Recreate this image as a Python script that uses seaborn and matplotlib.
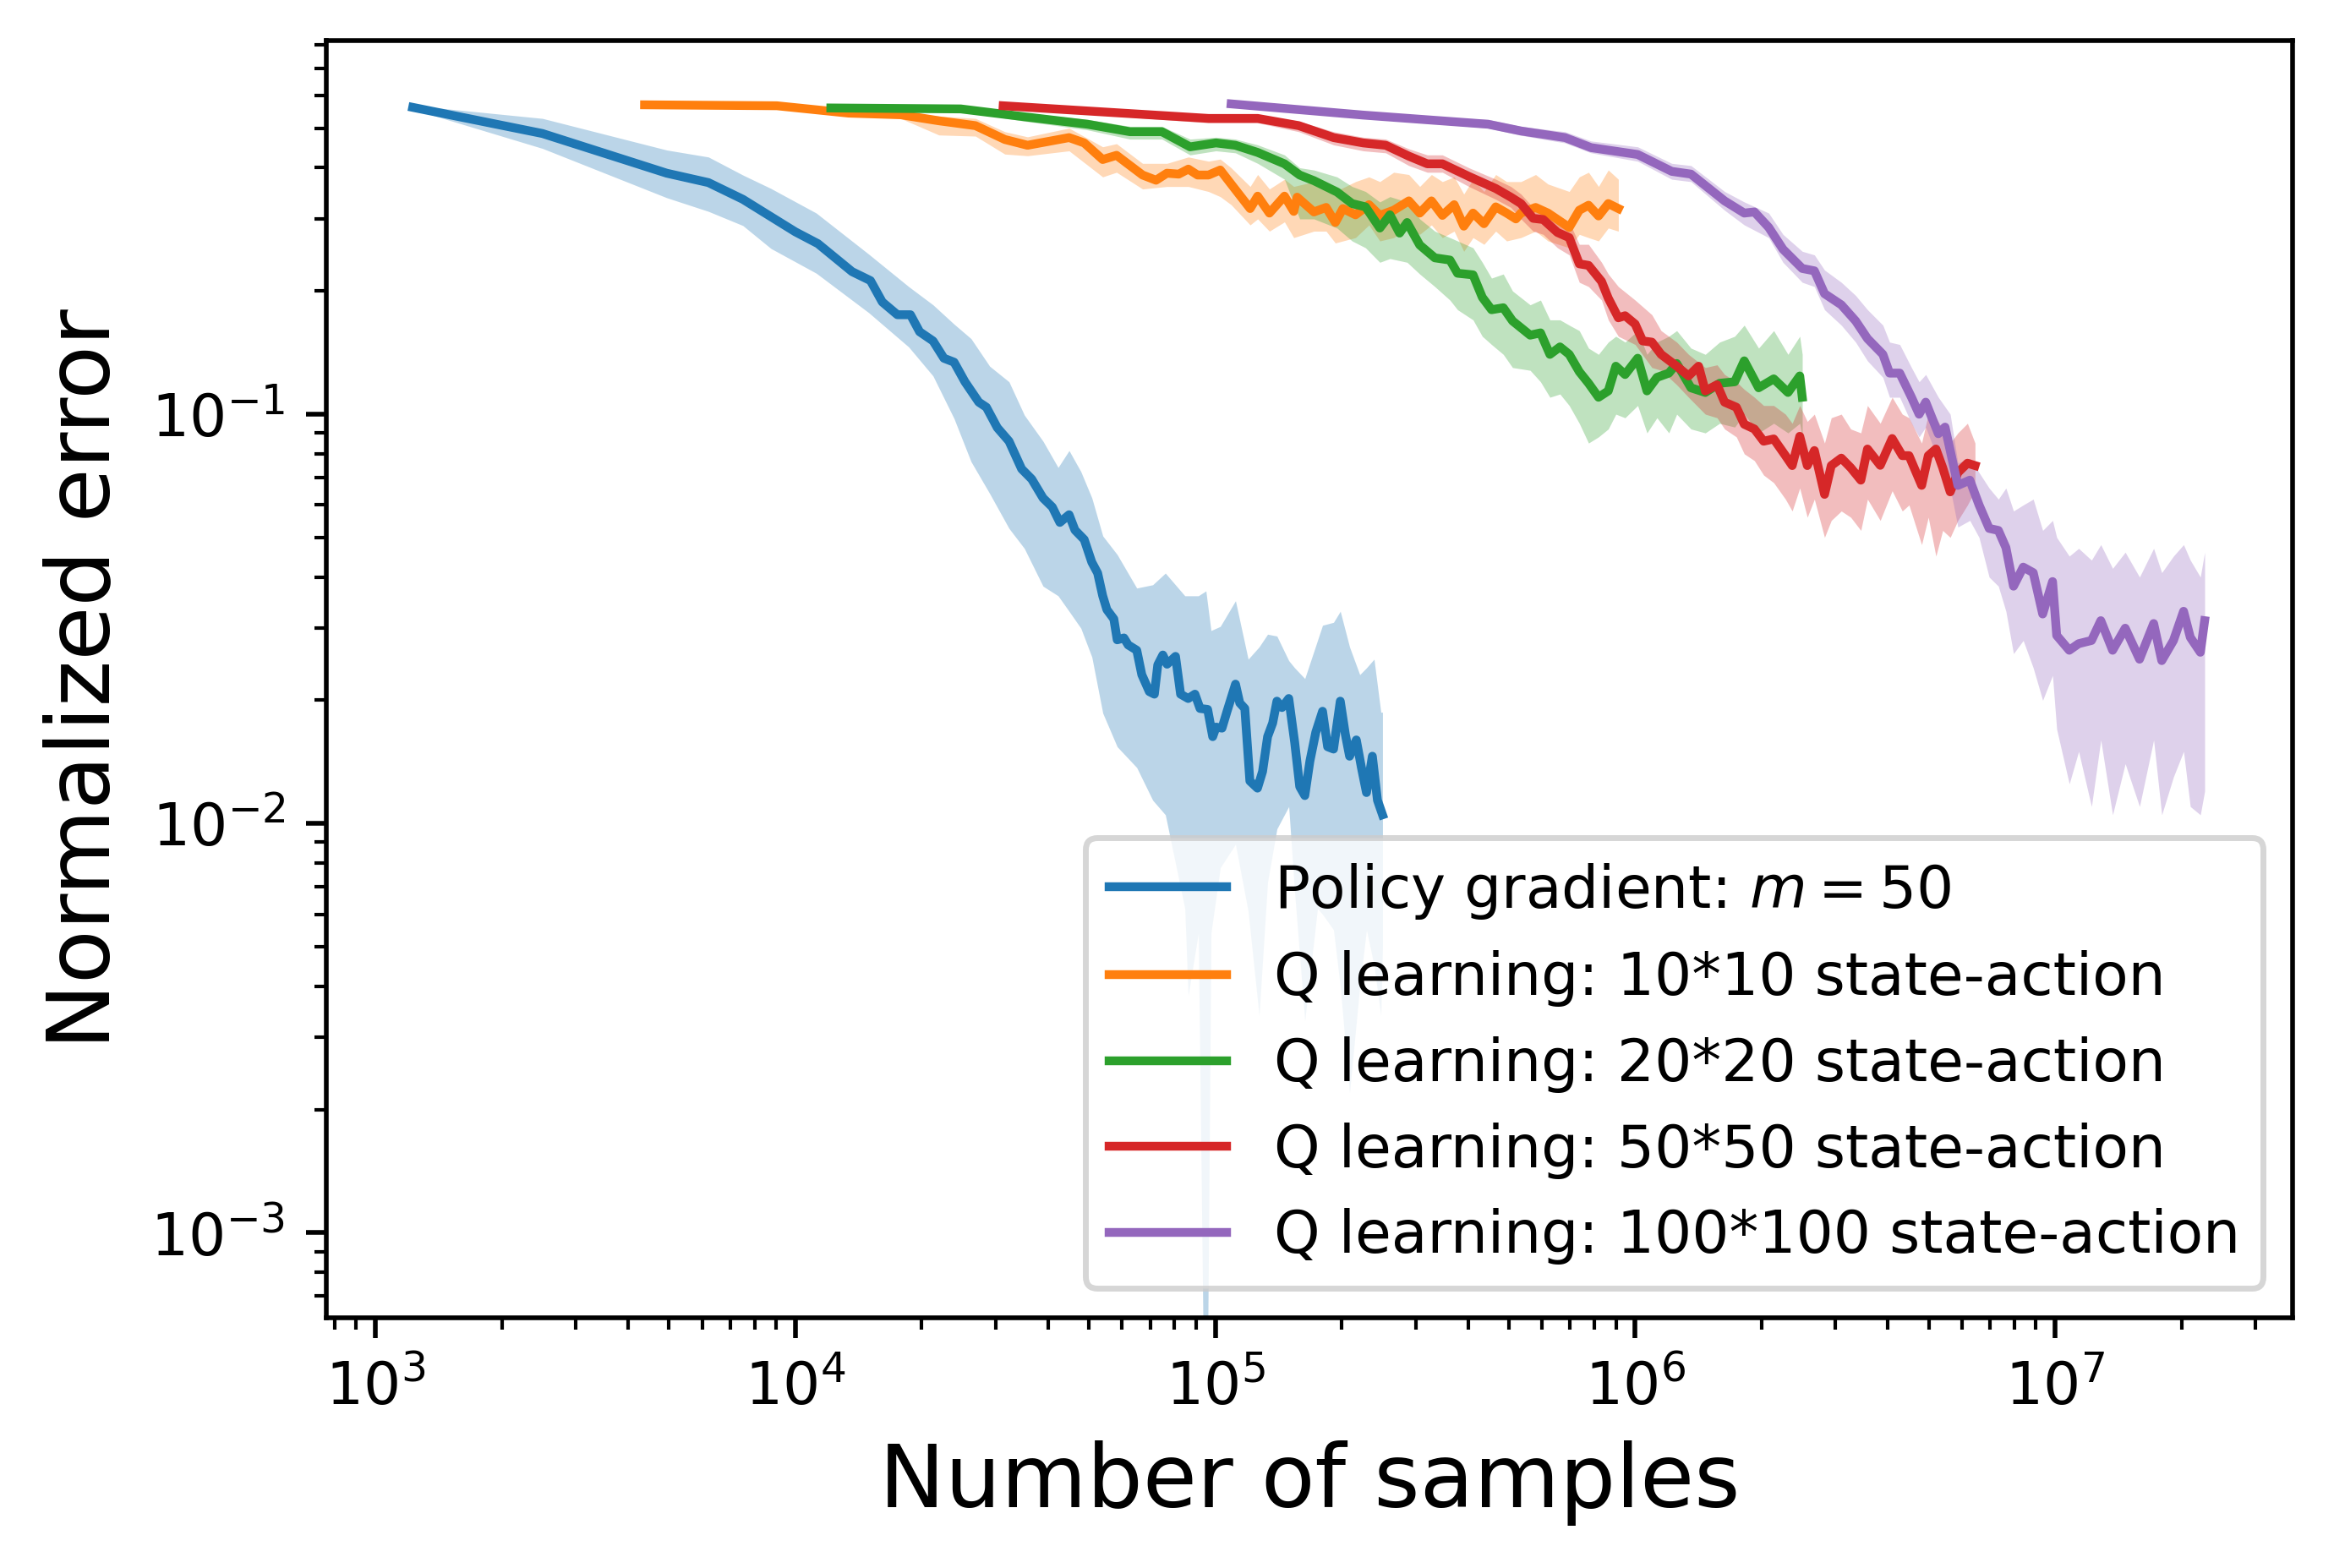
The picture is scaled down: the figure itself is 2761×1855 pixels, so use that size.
import numpy as np
import pandas as pd
import seaborn as sns
import matplotlib
matplotlib.use('Agg')
import matplotlib.pyplot as plt

# ---- data ----
labels = ["Policy gradient: $m=50$",
          "Q learning: 10*10 state-action",
          "Q learning: 20*20 state-action",
          "Q learning: 50*50 state-action",
          "Q learning: 100*100 state-action"]
colors = ["tab:blue", "tab:orange", "tab:green", "tab:red", "tab:purple"]

# policy gradient
pg_x = [1227, 2500, 4940, 6210, 7500, 10000, 11320, 13650, 15100, 16110, 17500, 18800,
        19770, 21280, 22590, 23880, 25350, 27350, 28510, 30270, 32280, 34590, 36560,
        38900, 40930, 42660, 44870, 46340, 48750, 50820, 52480, 53950, 55210, 57350,
        58420, 60620, 62050, 65030, 66850, 69670, 71630, 72970, 75030, 76790, 80430,
        82700, 86220, 89470, 92000, 95920, 98620, 100470, 103780, 106700, 111760,
        114390, 117610, 120920, 126070, 129630, 133270, 137020, 140250, 144210, 149660,
        154580, 158940, 163430, 168040, 173560, 180120, 185200, 191300, 198520, 204120,
        208900, 216770, 222900, 229190, 236700, 243400, 250250]
pg_y = [0.562, 0.485, 0.388, 0.368, 0.335, 0.279, 0.261, 0.223, 0.212, 0.188, 0.175, 0.175,
        0.159, 0.151, 0.137, 0.134, 0.120, 0.107, 0.104, 0.0927, 0.0859, 0.0735, 0.0694,
        0.0624, 0.0593, 0.0544, 0.0568, 0.0521, 0.0494, 0.0435, 0.0409, 0.0360, 0.0333, 0.0316,
        0.0281, 0.0284, 0.0273, 0.0265, 0.0231, 0.0210, 0.0207, 0.0244, 0.0258, 0.0245,
        0.0256, 0.0207, 0.0202, 0.0207, 0.0191, 0.0190, 0.0163, 0.0172, 0.0171, 0.0188,
        0.0219, 0.0197, 0.0191, 0.0127, 0.0122, 0.0134, 0.0163, 0.0176, 0.0199, 0.0192,
        0.0202, 0.0158, 0.0123, 0.0117, 0.0142, 0.0167, 0.0188, 0.0154, 0.0152, 0.0199,
        0.0165, 0.0146, 0.0160, 0.0137, 0.0119, 0.0146, 0.0114, 0.0105]
pg_band_x = [1227, 2500, 4940, 6210, 7500, 8750, 11220, 14960, 18620, 21280, 23880, 26210,
             29030, 32280, 35110, 38900, 42250, 44870, 47870, 50850, 53990, 58420, 65030,
             70980, 76080, 84660, 86220, 91160, 95030, 97710, 102800, 111760, 119800,
             127200, 133270, 140250, 149660, 154580, 163430, 175200, 180120, 191300,
             198520, 208900, 220900, 229190, 238900, 248000, 250250]
pg_band_lo = [0.556, 0.446, 0.338, 0.313, 0.289, 0.254, 0.221, 0.177, 0.146, 0.124, 0.0976,
              0.0766, 0.064, 0.0526, 0.047, 0.038, 0.036, 0.033, 0.030, 0.0255, 0.0186,
              0.0154, 0.0137, 0.0114, 0.0105, 0.0062, 0.0038, 0.0054, 0.00015, 0.0054,
              0.0078, 0.0089, 0.0061, 0.0034, 0.0072, 0.0097, 0.011, 0.0068, 0.0033, 0.0062,
              0.006, 0.0055, 0.004, 0.0022, 0.004, 0.0055, 0.0045, 0.0034, 0.005]
pg_band_hi = [0.568, 0.528, 0.442, 0.425, 0.384, 0.356, 0.310, 0.246, 0.205, 0.185, 0.166,
              0.153, 0.131, 0.120, 0.0995, 0.0859, 0.0741, 0.0815, 0.0724, 0.0624, 0.0504,
              0.0454, 0.0376, 0.0383, 0.0409, 0.036, 0.036, 0.036, 0.037, 0.0296, 0.0303,
              0.035, 0.0252, 0.027, 0.029, 0.0287, 0.025, 0.024, 0.0226, 0.028, 0.0305,
              0.031, 0.033, 0.027, 0.0231, 0.024, 0.0252, 0.0187, 0.0187]

# Q learning 10*10
q10_x = [4375, 9036, 13400, 17820, 21980, 26850, 31550, 35730, 44870, 48750, 53950, 58210,
         67140, 72280, 76740, 81850, 86300, 90780, 96380, 102800, 109100, 121100, 126200,
         134600, 146200, 153800, 156700, 171800, 183700, 193200, 201400, 215800, 232300,
         246600, 266100, 289100, 306900, 327300, 347500, 370700, 390800, 411100, 436500,
         465600, 494300, 520000, 534600, 579400, 620000, 696600, 736200, 774500, 818000,
         863000, 912000]
q10_y = [0.570, 0.567, 0.544, 0.539, 0.521, 0.507, 0.469, 0.454, 0.474, 0.460, 0.419, 0.429,
         0.384, 0.373, 0.388, 0.386, 0.397, 0.384, 0.384, 0.395, 0.365, 0.318, 0.341,
         0.310, 0.341, 0.313, 0.339, 0.312, 0.320, 0.294, 0.318, 0.307, 0.325,
         0.306, 0.315, 0.332, 0.310, 0.332, 0.306, 0.325, 0.288, 0.310, 0.292,
         0.321, 0.310, 0.300, 0.310, 0.320, 0.310, 0.286, 0.315, 0.324, 0.305,
         0.327, 0.318]
q10_band_x = [4375, 9036, 13400, 17820, 21980, 26850, 31550, 35730, 44870, 53950, 58210,
              67140, 76740, 86300, 96380, 102800, 109100, 121100, 126200, 134600, 146200,
              153800, 171800, 183700, 193200, 215800, 232300, 246600, 266100, 289100,
              306900, 327300, 347500, 370700, 390800, 411100, 436500, 465600, 494300,
              534600, 579400, 620000, 696600, 736200, 774500, 818000, 863000, 912000]
q10_band_lo = [0.565, 0.562, 0.535, 0.528, 0.481, 0.478, 0.432, 0.428, 0.44, 0.38, 0.39,
               0.355, 0.36, 0.36, 0.35, 0.34, 0.325, 0.29, 0.30, 0.28, 0.295,
               0.27, 0.28, 0.28, 0.262, 0.27, 0.29, 0.265, 0.27, 0.285,
               0.275, 0.29, 0.27, 0.28, 0.25, 0.27, 0.26, 0.28, 0.265,
               0.27, 0.28, 0.265, 0.255, 0.275, 0.27, 0.265, 0.285, 0.28]
q10_band_hi = [0.575, 0.573, 0.552, 0.548, 0.535, 0.528, 0.49, 0.476, 0.50, 0.45, 0.458,
               0.41, 0.41, 0.425, 0.415, 0.42, 0.40, 0.36, 0.385, 0.355, 0.375,
               0.36, 0.37, 0.36, 0.35, 0.37, 0.38, 0.37, 0.39, 0.385,
               0.36, 0.385, 0.37, 0.38, 0.345, 0.375, 0.35, 0.385, 0.37,
               0.37, 0.385, 0.365, 0.35, 0.38, 0.39, 0.36, 0.395, 0.375]

# Q learning 20*20
q20_x = [12150, 24770, 35090, 49660, 62660, 74650, 87100, 100400, 111700, 126200, 146200,
         158900, 171800, 195000, 211800, 228000, 246600, 260600, 274800, 286400, 306900,
         333400, 362200, 377600, 411100, 432500, 455000, 485300, 510500, 562300, 595200,
         626600, 662200, 696600, 736200, 774500, 818000, 863000, 899500, 946200, 1014000,
         1067000, 1127000, 1203000, 1256000, 1358000, 1469000, 1589000, 1726000, 1819000,
         1968000, 2138000, 2312000, 2466000, 2500000]
q20_y = [0.560, 0.557, 0.533, 0.511, 0.490, 0.490, 0.450, 0.460, 0.454, 0.436, 0.409,
         0.384, 0.372, 0.349, 0.327, 0.321, 0.285, 0.307, 0.277, 0.294, 0.259,
         0.241, 0.238, 0.221, 0.219, 0.193, 0.180, 0.182, 0.169, 0.156, 0.158,
         0.140, 0.146, 0.140, 0.127, 0.119, 0.110, 0.114, 0.131, 0.125, 0.137,
         0.114, 0.123, 0.126, 0.133, 0.116, 0.113, 0.119, 0.120, 0.135,
         0.116, 0.122, 0.113, 0.124, 0.110]
q20_band_x = [12150, 24770, 35090, 49660, 62660, 74650, 87100, 100400, 111700, 126200,
              146200, 158900, 171800, 195000, 211800, 228000, 246600, 260600, 286400,
              306900, 333400, 362200, 377600, 411100, 432500, 455000, 485300, 510500,
              562300, 595200, 626600, 662200, 696600, 736200, 774500, 818000, 863000,
              899500, 946200, 1014000, 1067000, 1127000, 1203000, 1256000, 1358000,
              1469000, 1589000, 1726000, 1819000, 1968000, 2138000, 2312000, 2466000, 2500000]
q20_band_lo = [0.555, 0.550, 0.52, 0.495, 0.47, 0.47, 0.43, 0.44, 0.435, 0.41,
               0.375, 0.30, 0.30, 0.285, 0.265, 0.255, 0.235, 0.24, 0.235,
               0.22, 0.205, 0.19, 0.18, 0.17, 0.155, 0.148, 0.14, 0.13,
               0.128, 0.12, 0.11, 0.112, 0.105, 0.095, 0.085, 0.088, 0.092,
               0.10, 0.098, 0.105, 0.09, 0.098, 0.09, 0.10, 0.092,
               0.09, 0.095, 0.093, 0.10, 0.09, 0.095, 0.09, 0.095, 0.088]
q20_band_hi = [0.565, 0.565, 0.545, 0.525, 0.505, 0.505, 0.47, 0.475, 0.47, 0.455,
               0.43, 0.40, 0.395, 0.38, 0.36, 0.35, 0.33, 0.34, 0.33,
               0.30, 0.28, 0.27, 0.265, 0.255, 0.235, 0.215, 0.22, 0.20,
               0.185, 0.19, 0.17, 0.17, 0.165, 0.16, 0.145, 0.14, 0.15,
               0.155, 0.15, 0.16, 0.14, 0.15, 0.155, 0.16, 0.145,
               0.14, 0.15, 0.155, 0.165, 0.145, 0.16, 0.14, 0.155, 0.14]

# Q learning 50*50
q50_x = [31260, 96380, 126200, 158100, 191400, 225100, 254700, 289100, 319900, 347500,
         401800, 465600, 505800, 534600, 571500, 604000, 653100, 696600, 736200, 774500,
         831800, 863000, 912000, 946200, 1000000, 1042000, 1096000, 1153000, 1256000,
         1340000, 1416000, 1469000, 1567000, 1633000, 1742000, 1819000, 1923000, 2023000,
         2138000, 2280000, 2366000, 2466000, 2570000, 2672000, 2825000, 2931000, 3097000,
         3261000, 3447000, 3575000, 3834000, 4093000, 4327000, 4489000, 4811000, 4990000,
         5203000, 5400000, 5627000, 5869000, 6185000, 6447000]
q50_y = [0.567, 0.528, 0.528, 0.507, 0.474, 0.460, 0.454, 0.427, 0.409, 0.409,
         0.381, 0.356, 0.339, 0.327, 0.301, 0.299, 0.278, 0.270, 0.233, 0.231,
         0.211, 0.192, 0.172, 0.174, 0.166, 0.151, 0.150, 0.140, 0.131,
         0.124, 0.131, 0.114, 0.118, 0.107, 0.104, 0.0945, 0.092, 0.0859,
         0.087, 0.0792, 0.0749, 0.0883, 0.0749, 0.0815, 0.0637, 0.0749, 0.0781,
         0.074, 0.069, 0.0822, 0.075, 0.0872, 0.0792, 0.0792, 0.067, 0.0792,
         0.0822, 0.074, 0.0646, 0.072, 0.0759, 0.0749]
q50_band_x = [31260, 96380, 126200, 158100, 191400, 225100, 254700, 289100, 319900, 347500,
              401800, 465600, 505800, 534600, 571500, 604000, 653100, 696600, 736200,
              774500, 831800, 863000, 912000, 1000000, 1096000, 1153000, 1256000, 1340000,
              1469000, 1567000, 1633000, 1742000, 1819000, 1923000, 2023000, 2138000,
              2280000, 2366000, 2466000, 2570000, 2672000, 2825000, 2931000, 3097000,
              3261000, 3447000, 3575000, 3834000, 4093000, 4327000, 4489000, 4811000,
              4990000, 5203000, 5400000, 5627000, 5869000, 6185000, 6447000]
q50_band_lo = [0.560, 0.515, 0.515, 0.49, 0.455, 0.44, 0.435, 0.405, 0.39, 0.39,
               0.36, 0.335, 0.32, 0.30, 0.28, 0.275, 0.255, 0.245, 0.21,
               0.205, 0.19, 0.17, 0.155, 0.148, 0.13, 0.128, 0.118, 0.11,
               0.10, 0.098, 0.092, 0.088, 0.08, 0.077, 0.071, 0.068,
               0.062, 0.058, 0.066, 0.056, 0.062, 0.05, 0.055, 0.058,
               0.056, 0.052, 0.062, 0.055, 0.065, 0.058, 0.060, 0.048,
               0.056, 0.045, 0.052, 0.05, 0.055, 0.06, 0.065]
q50_band_hi = [0.575, 0.540, 0.540, 0.52, 0.49, 0.475, 0.47, 0.445, 0.43, 0.43,
               0.40, 0.375, 0.36, 0.345, 0.32, 0.32, 0.30, 0.295, 0.26,
               0.26, 0.235, 0.22, 0.205, 0.19, 0.175, 0.16, 0.15, 0.14,
               0.13, 0.132, 0.125, 0.12, 0.115, 0.11, 0.105, 0.105,
               0.10, 0.095, 0.105, 0.096, 0.10, 0.085, 0.098, 0.10,
               0.092, 0.09, 0.105, 0.095, 0.11, 0.10, 0.098, 0.085,
               0.10, 0.098, 0.092, 0.085, 0.09, 0.095, 0.085]

# Q learning 100*100
q100_x = [109100, 225100, 446700, 534600, 680800, 785200, 1014000, 1222000, 1358000,
          1633000, 1819000, 1923000, 2080000, 2249000, 2500000, 2672000, 2825000, 3097000,
          3350000, 3575000, 3890000, 4035000, 4266000, 4550000, 4745000, 4920000, 5272000,
          5470000, 5627000, 5869000, 6266000, 6592000, 6966000, 7328000, 7638000, 7962000,
          8398000, 8872000, 9343000, 9863000, 10090000, 10810000, 11380000, 12210000,
          12850000, 13710000, 14690000, 15890000, 17170000, 17950000, 19140000, 20230000,
          20990000, 22180000, 22710000]
q100_y = [0.573, 0.538, 0.511, 0.492, 0.474, 0.448, 0.431, 0.392, 0.386,
          0.332, 0.310, 0.312, 0.286, 0.253, 0.227, 0.224, 0.197, 0.185,
          0.169, 0.153, 0.140, 0.126, 0.126, 0.110, 0.100, 0.107, 0.0896,
          0.093, 0.0815, 0.067, 0.069, 0.060, 0.0526, 0.052, 0.0472, 0.038,
          0.0423, 0.041, 0.0325, 0.039, 0.0288, 0.0265, 0.0275, 0.0280,
          0.0313, 0.0265, 0.030, 0.0252, 0.0308, 0.025, 0.028, 0.033,
          0.0285, 0.0262, 0.0313]
q100_band_x = [109100, 225100, 446700, 534600, 680800, 785200, 1014000, 1222000, 1358000,
               1633000, 1819000, 2080000, 2249000, 2500000, 2672000, 2825000, 3097000,
               3350000, 3575000, 3890000, 4035000, 4266000, 4550000, 4745000, 4920000,
               5272000, 5627000, 5869000, 6266000, 6592000, 6966000, 7328000, 7638000,
               7962000, 8398000, 8872000, 9343000, 9863000, 10090000, 10810000, 11380000,
               12210000, 12850000, 13710000, 14690000, 15890000, 17170000, 17950000,
               19140000, 20230000, 20990000, 22180000, 22710000]
q100_band_lo = [0.568, 0.53, 0.50, 0.48, 0.46, 0.435, 0.415, 0.375, 0.37,
                0.315, 0.29, 0.27, 0.235, 0.21, 0.205, 0.18, 0.165,
                0.15, 0.135, 0.123, 0.11, 0.11, 0.095, 0.088, 0.093,
                0.077, 0.066, 0.053, 0.055, 0.05, 0.04, 0.038, 0.033,
                0.026, 0.028, 0.024, 0.02, 0.023, 0.017, 0.0125, 0.015,
                0.011, 0.016, 0.0105, 0.014, 0.011, 0.016, 0.0105,
                0.013, 0.015, 0.011, 0.0105, 0.012]
q100_band_hi = [0.578, 0.545, 0.525, 0.505, 0.49, 0.465, 0.45, 0.41, 0.405,
                0.35, 0.33, 0.31, 0.275, 0.25, 0.245, 0.225, 0.21,
                0.195, 0.18, 0.165, 0.15, 0.148, 0.13, 0.12, 0.125,
                0.11, 0.10, 0.076, 0.078, 0.072, 0.066, 0.062, 0.066,
                0.058, 0.060, 0.062, 0.052, 0.055, 0.05, 0.045, 0.047,
                0.044, 0.048, 0.042, 0.046, 0.040, 0.047, 0.041,
                0.045, 0.048, 0.044, 0.040, 0.046]

lines = [(pg_x, pg_y), (q10_x, q10_y), (q20_x, q20_y), (q50_x, q50_y), (q100_x, q100_y)]
bands = [(pg_band_x, pg_band_lo, pg_band_hi), (q10_band_x, q10_band_lo, q10_band_hi),
         (q20_band_x, q20_band_lo, q20_band_hi), (q50_band_x, q50_band_lo, q50_band_hi),
         (q100_band_x, q100_band_lo, q100_band_hi)]

fig = plt.figure(figsize=(2761 / 500, 1855 / 500), dpi=500)
ax = fig.add_axes([0.1398, 0.1596, 0.9823 - 0.1398, 0.9741 - 0.1596])

for (x, y), (bx, blo, bhi), lab, c in zip(lines, bands, labels, colors):
    df = pd.DataFrame({"samples": x, "error": y})
    sns.lineplot(data=df, x="samples", y="error", color=c, label=lab,
                 linewidth=1.5, errorbar=None, ax=ax)
    ax.fill_between(bx, blo, bhi, color=c, alpha=0.3, linewidth=0)

ax.set_xscale("log")
ax.set_yscale("log")
ax.set_xlim(764, 3.68e7)
ax.set_ylim(6.2e-4, 0.818)
ax.set_xlabel("Number of samples", fontsize=15)
ax.set_ylabel("Normalized error", fontsize=15)
ax.legend(loc="lower right", fontsize=10)

fig.savefig("out.png", dpi=500)
plt.close(fig)
